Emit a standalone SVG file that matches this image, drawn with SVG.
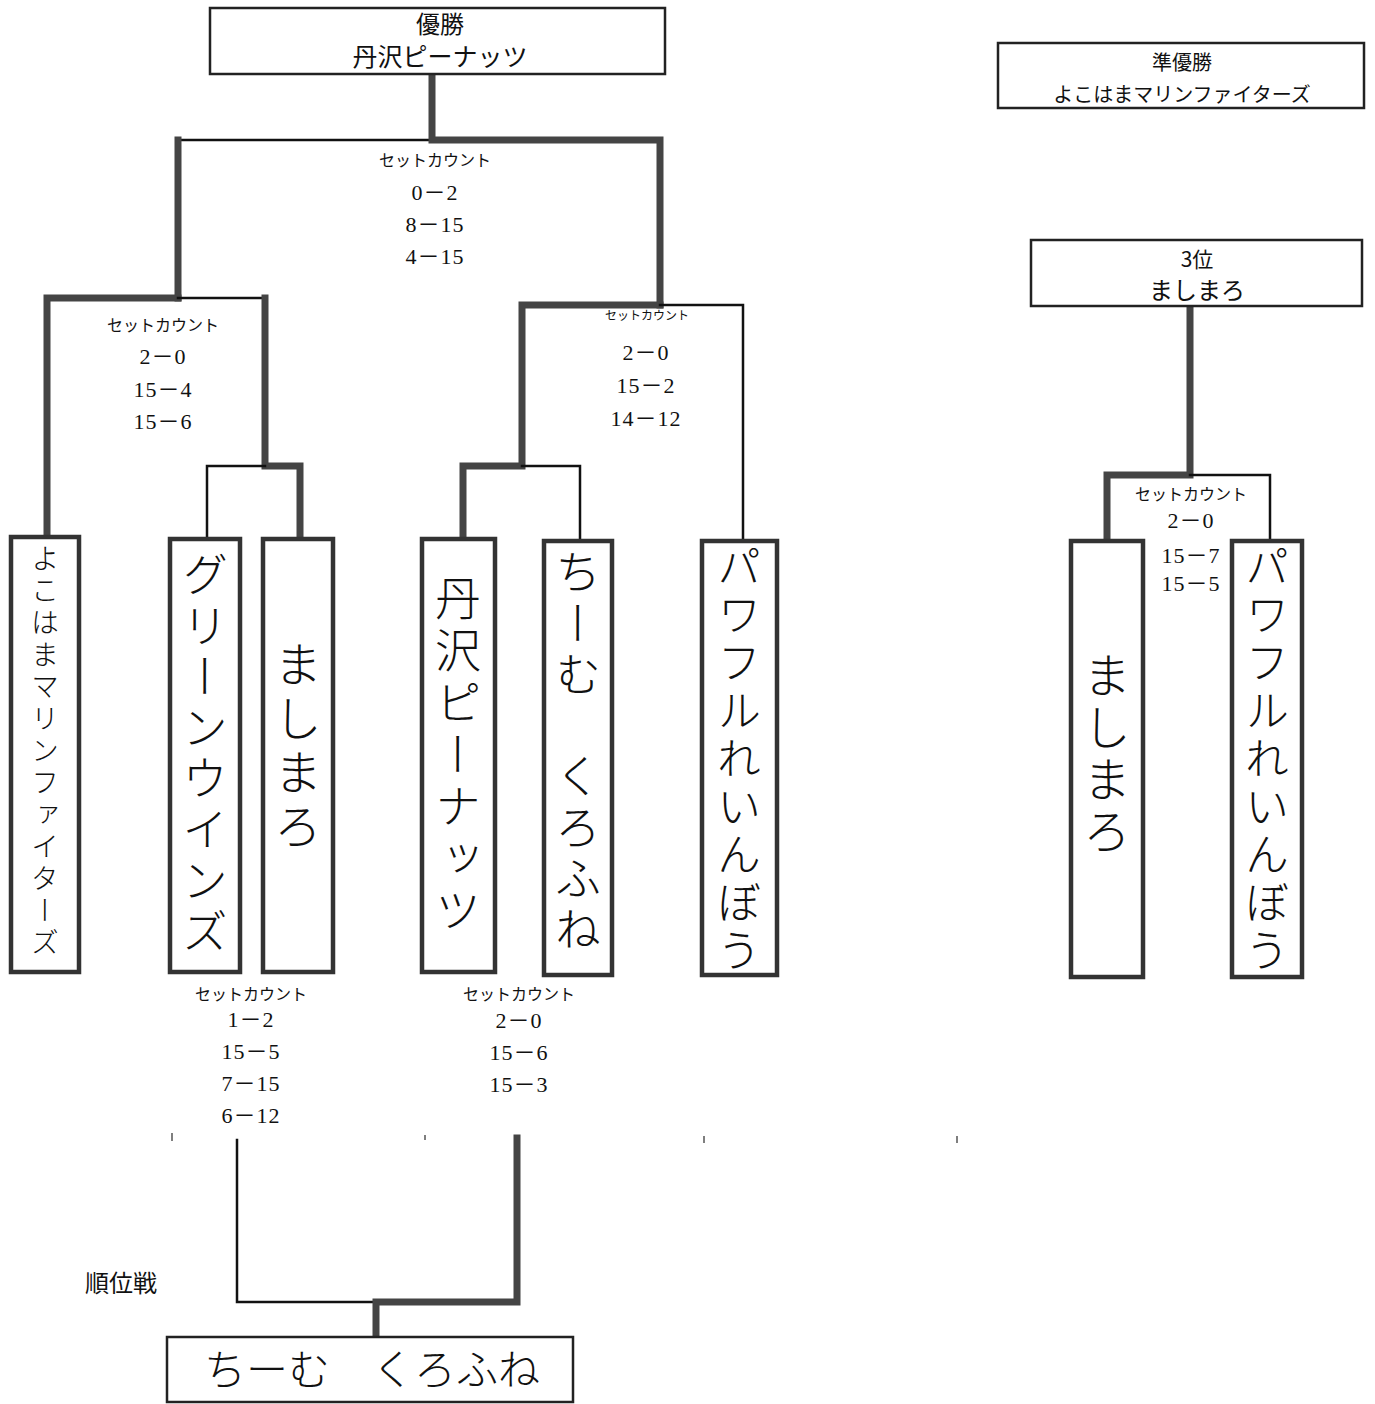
<svg xmlns="http://www.w3.org/2000/svg" width="1375" height="1404" viewBox="0 0 1375 1404">
<style>
.bg{fill:#fff}
.box{fill:#fff;stroke:#222;stroke-width:2.5}
.tbox{fill:#fff;stroke:#333;stroke-width:4.5}
.thin{fill:none;stroke:#111;stroke-width:2.5;stroke-linecap:square}
.thick{fill:none;stroke:#444;stroke-width:7;stroke-linecap:square;stroke-linejoin:miter}
.jp{font-family:"Noto Sans CJK JP","Liberation Sans",sans-serif;fill:#111}
.sc{font-family:"Liberation Serif","Noto Sans CJK JP",serif;fill:#111;font-size:22px;letter-spacing:1px}
.lbl{font-family:"Noto Sans CJK JP",sans-serif;fill:#111;font-size:16px}
.lbls{font-family:"Noto Sans CJK JP",sans-serif;fill:#111;font-size:12px}
.v{font-family:"Noto Sans CJK JP",sans-serif;fill:#111;writing-mode:vertical-rl;text-orientation:upright;font-weight:300}
.tick{stroke:#555;stroke-width:1.5}
</style>
<rect class="bg" x="0" y="0" width="1375" height="1404"/>

<g id="connectors">
  <polyline class="thin" points="178,140 432,140"/>
  <polyline class="thick" points="432,74 432,140 660,140 660,305"/>
  <polyline class="thick" points="178,140 178,298"/>
  <polyline class="thick" points="178,298 47,298 47,537"/>
  <polyline class="thin" points="178,298 265,298"/>
  <polyline class="thick" points="265,298 265,466 300,466 300,537"/>
  <polyline class="thin" points="265,466 207,466 207,537"/>
  <polyline class="thick" points="660,305 522,305 522,466 463,466 463,537"/>
  <polyline class="thin" points="660,305 743,305 743,540"/>
  <polyline class="thin" points="522,466 580,466 580,540"/>
  <polyline class="thick" points="1190,306 1190,475 1107,475 1107,540"/>
  <polyline class="thin" points="1190,475 1270,475 1270,540"/>
  <polyline class="thin" points="237,1140 237,1302 376,1302"/>
  <polyline class="thick" points="517,1138 517,1302 376,1302 376,1337"/>
  <line class="tick" x1="172" y1="1133" x2="172" y2="1141"/>
  <line class="tick" x1="425" y1="1135" x2="425" y2="1140"/>
  <line class="tick" x1="704" y1="1136" x2="704" y2="1143"/>
  <line class="tick" x1="957" y1="1136" x2="957" y2="1143"/>
</g>

<g id="champion">
  <rect class="box" x="210" y="8" width="455" height="66"/>
  <text class="jp" x="440" y="33" font-size="24" text-anchor="middle">優勝</text>
  <text class="jp" x="440" y="66" font-size="25" text-anchor="middle">丹沢ピーナッツ</text>
</g>
<g id="runnerup">
  <rect class="box" x="998" y="43" width="366" height="65"/>
  <text class="jp" x="1182" y="70" font-size="20" text-anchor="middle">準優勝</text>
  <text class="jp" x="1182" y="102" font-size="20" text-anchor="middle">よこはまマリンファイターズ</text>
</g>
<g id="third">
  <rect class="box" x="1031" y="240" width="331" height="66"/>
  <text class="jp" x="1197" y="267" font-size="21" text-anchor="middle">3位</text>
  <text class="jp" x="1197" y="299" font-size="24" text-anchor="middle">ましまろ</text>
</g>

<g id="team-yokohama">
  <rect class="tbox" x="11" y="537" width="68" height="435"/>
  <text class="v" x="45" y="752" font-size="28" letter-spacing="4" text-anchor="middle">よこはまマリンファイターズ</text>
</g>
<g id="team-greenwinds">
  <rect class="tbox" x="170" y="539" width="70" height="433"/>
  <text class="v" x="205" y="755" font-size="46" letter-spacing="5" text-anchor="middle">グリーンウインズ</text>
</g>
<g id="team-mashimaro">
  <rect class="tbox" x="263" y="539" width="70" height="433"/>
  <text class="v" x="298" y="748" font-size="48" letter-spacing="6" text-anchor="middle">ましまろ</text>
</g>
<g id="team-tanzawa">
  <rect class="tbox" x="422" y="539" width="73" height="433"/>
  <text class="v" x="458" y="757" font-size="46" letter-spacing="6" text-anchor="middle">丹沢ピーナッツ</text>
</g>
<g id="team-chiimu">
  <rect class="tbox" x="544" y="541" width="68" height="434"/>
  <text class="v" x="578" y="753" font-size="46" letter-spacing="5" text-anchor="middle">ちーむ　くろふね</text>
</g>
<g id="team-powerful">
  <rect class="tbox" x="702" y="541" width="75" height="434"/>
  <text class="v" x="739" y="760" font-size="44" letter-spacing="4" text-anchor="middle">パワフルれいんぼう</text>
</g>
<g id="team-mashimaro-3rd">
  <rect class="tbox" x="1071" y="541" width="72" height="436"/>
  <text class="v" x="1107" y="755" font-size="48" letter-spacing="4" text-anchor="middle">ましまろ</text>
</g>
<g id="team-powerful-3rd">
  <rect class="tbox" x="1232" y="541" width="70" height="436"/>
  <text class="v" x="1267" y="760" font-size="44" letter-spacing="4" text-anchor="middle">パワフルれいんぼう</text>
</g>

<g id="score-final">
  <text class="lbl" x="435" y="166" text-anchor="middle">セットカウント</text>
  <text class="sc" x="435" y="200" text-anchor="middle">0－2</text>
  <text class="sc" x="435" y="232" text-anchor="middle">8－15</text>
  <text class="sc" x="435" y="264" text-anchor="middle">4－15</text>
</g>
<g id="score-semi-left">
  <text class="lbl" x="163" y="331" text-anchor="middle">セットカウント</text>
  <text class="sc" x="163" y="364" text-anchor="middle">2－0</text>
  <text class="sc" x="163" y="397" text-anchor="middle">15－4</text>
  <text class="sc" x="163" y="429" text-anchor="middle">15－6</text>
</g>
<g id="score-semi-right">
  <text class="lbls" x="647" y="320" text-anchor="middle">セットカウント</text>
  <text class="sc" x="646" y="360" text-anchor="middle">2－0</text>
  <text class="sc" x="646" y="393" text-anchor="middle">15－2</text>
  <text class="sc" x="646" y="426" text-anchor="middle">14－12</text>
</g>
<g id="score-qf-left">
  <text class="lbl" x="251" y="1000" text-anchor="middle">セットカウント</text>
  <text class="sc" x="251" y="1027" text-anchor="middle">1－2</text>
  <text class="sc" x="251" y="1059" text-anchor="middle">15－5</text>
  <text class="sc" x="251" y="1091" text-anchor="middle">7－15</text>
  <text class="sc" x="251" y="1123" text-anchor="middle">6－12</text>
</g>
<g id="score-qf-right">
  <text class="lbl" x="519" y="1000" text-anchor="middle">セットカウント</text>
  <text class="sc" x="519" y="1028" text-anchor="middle">2－0</text>
  <text class="sc" x="519" y="1060" text-anchor="middle">15－6</text>
  <text class="sc" x="519" y="1092" text-anchor="middle">15－3</text>
</g>
<g id="score-third">
  <text class="lbl" x="1191" y="500" text-anchor="middle">セットカウント</text>
  <text class="sc" x="1191" y="528" text-anchor="middle">2－0</text>
  <text class="sc" x="1191" y="563" text-anchor="middle">15－7</text>
  <text class="sc" x="1191" y="591" text-anchor="middle">15－5</text>
</g>

<g id="placement-label">
  <text class="jp" x="121" y="1292" font-size="24" text-anchor="middle">順位戦</text>
</g>
<g id="placement-winner">
  <rect class="box" x="167" y="1337" width="406" height="65"/>
  <text class="jp" x="372" y="1385" font-size="42" font-weight="300" text-anchor="middle">ちーむ　くろふね</text>
</g>
</svg>
